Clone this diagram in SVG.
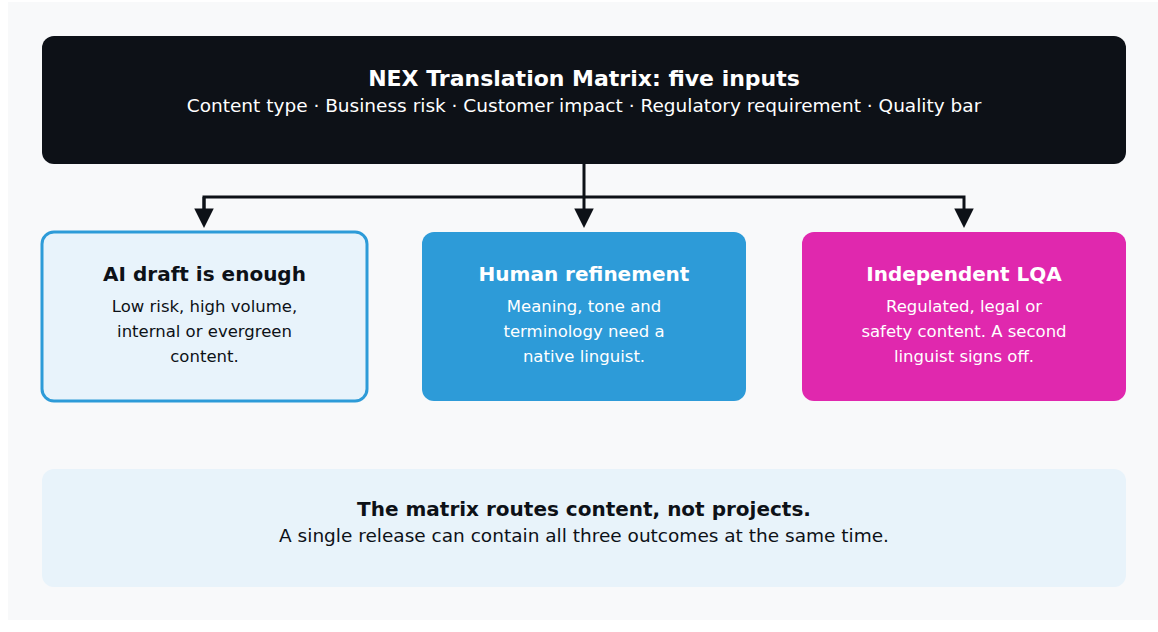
<svg xmlns="http://www.w3.org/2000/svg" width="1158" height="632" viewBox="0 0 1158 632">
<style>
text{font-family:"DejaVu Sans",sans-serif;text-anchor:middle}
.t{font-weight:bold;font-size:20px}
.b{font-size:16.5px}
.w{fill:#fff}
.d{fill:#0d1117}
.c{stroke:#0d1117;stroke-width:3;fill:none}
</style>
<defs><marker id="a" viewBox="0 0 10 10" refX="8" refY="5" markerWidth="6.5" markerHeight="6.5" orient="auto"><path d="M0,0L10,5L0,10Z" fill="#0d1117"/></marker></defs>
<rect width="1158" height="632" fill="#fff"/>
<rect x="8" y="2" width="1150" height="618" fill="#f8f9fa"/>
<g id="matrix"><rect x="42" y="36" width="1084" height="128" rx="12" fill="#0d1117"/>
<text x="584" y="86" class="w" style="font-weight:bold;font-size:22px">NEX Translation Matrix: five inputs</text>
<text x="584" y="112" class="w" style="font-size:18.5px">Content type · Business risk · Customer impact · Regulatory requirement · Quality bar</text></g>
<g id="connectors">
<path class="c" d="M584,164V224" marker-end="url(#a)"/>
<path class="c" d="M204,224V197H964V224" marker-end="url(#a)"/>
<path class="c" d="M204,197V224" marker-end="url(#a)"/>
</g>
<g id="ai"><rect x="42" y="232" width="325" height="169" rx="12" fill="#e8f3fb" stroke="#2d9bd8" stroke-width="3"/>
<text x="204.5" y="281" class="t d">AI draft is enough</text>
<text x="204.5" y="312" class="b d">Low risk, high volume,</text>
<text x="204.5" y="337" class="b d">internal or evergreen</text>
<text x="204.5" y="362" class="b d">content.</text></g>
<g id="human"><rect x="422" y="232" width="324" height="169" rx="12" fill="#2d9bd8"/>
<text x="584" y="281" class="t w">Human refinement</text>
<text x="584" y="312" class="b w">Meaning, tone and</text>
<text x="584" y="337" class="b w">terminology need a</text>
<text x="584" y="362" class="b w">native linguist.</text></g>
<g id="lqa"><rect x="802" y="232" width="324" height="169" rx="12" fill="#e028ae"/>
<text x="964" y="281" class="t w">Independent LQA</text>
<text x="964" y="312" class="b w">Regulated, legal or</text>
<text x="964" y="337" class="b w">safety content. A second</text>
<text x="964" y="362" class="b w">linguist signs off.</text></g>
<g id="note"><rect x="42" y="469" width="1084" height="118" rx="12" fill="#e8f3fa"/>
<text x="584" y="516" class="t d">The matrix routes content, not projects.</text>
<text x="584" y="542" class="d" style="font-size:18.5px">A single release can contain all three outcomes at the same time.</text></g>
</svg>
